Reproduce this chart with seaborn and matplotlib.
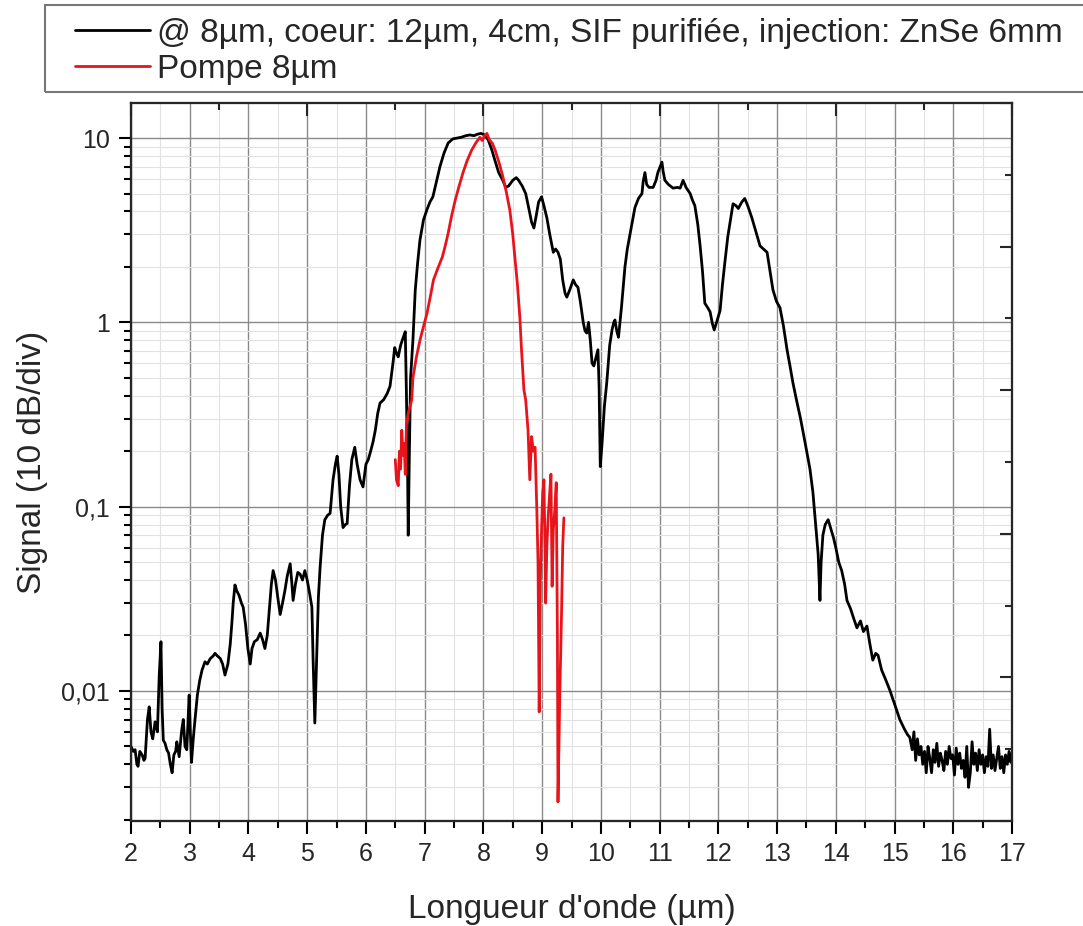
import numpy as np
import pandas as pd
import seaborn as sns
import matplotlib.pyplot as plt
from matplotlib.patches import Rectangle
from matplotlib.ticker import FixedLocator, MultipleLocator, LogLocator, FixedFormatter, NullFormatter

# spectre en sortie de fibre (noir)
black_x = [2.00, 2.04, 2.07, 2.10, 2.12, 2.15, 2.19, 2.22, 2.24, 2.28, 2.31, 2.34, 2.37, 2.41, 2.45, 2.48,
           2.51, 2.53, 2.55, 2.58, 2.61, 2.64, 2.67, 2.70, 2.73, 2.76, 2.78, 2.82, 2.86, 2.89, 2.92, 2.95,
           2.99, 3.01, 3.03, 3.06, 3.09, 3.13, 3.17, 3.21, 3.26, 3.30, 3.35, 3.40, 3.43, 3.47, 3.52, 3.56,
           3.60, 3.65, 3.69, 3.72, 3.74, 3.77, 3.80, 3.84, 3.88, 3.91, 3.95, 3.99, 4.03, 4.06, 4.10, 4.15,
           4.20, 4.24, 4.28, 4.32, 4.36, 4.39, 4.42, 4.46, 4.50, 4.54, 4.58, 4.62, 4.66, 4.71, 4.74, 4.76,
           4.80, 4.84, 4.88, 4.92, 4.96, 5.00, 5.04, 5.08, 5.10, 5.13, 5.16, 5.19, 5.22, 5.26, 5.30, 5.35,
           5.39, 5.44, 5.48, 5.51, 5.54, 5.57, 5.61, 5.65, 5.68, 5.72, 5.76, 5.81, 5.85, 5.90, 5.95, 6.00,
           6.04, 6.08, 6.12, 6.16, 6.20, 6.24, 6.30, 6.36, 6.41, 6.46, 6.49, 6.52, 6.55, 6.59, 6.63, 6.67,
           6.69, 6.71, 6.72, 6.74, 6.76, 6.80, 6.84, 6.88, 6.92, 6.98, 7.04, 7.09, 7.14, 7.20, 7.26, 7.33,
           7.40, 7.48, 7.55, 7.62, 7.70, 7.77, 7.84, 7.90, 7.96, 8.02, 8.08, 8.14, 8.20, 8.26, 8.33, 8.38,
           8.43, 8.50, 8.56, 8.60, 8.66, 8.72, 8.77, 8.82, 8.86, 8.90, 8.94, 8.99, 9.03, 9.08, 9.13, 9.19,
           9.23, 9.27, 9.31, 9.35, 9.39, 9.42, 9.47, 9.53, 9.57, 9.61, 9.65, 9.70, 9.73, 9.76, 9.79, 9.82,
           9.85, 9.88, 9.92, 9.95, 9.97, 9.99, 10.02, 10.06, 10.10, 10.15, 10.19, 10.22, 10.24, 10.27, 10.30, 10.35,
           10.41, 10.45, 10.50, 10.58, 10.64, 10.70, 10.72, 10.75, 10.78, 10.82, 10.89, 10.94, 10.97, 11.01, 11.04, 11.06,
           11.09, 11.15, 11.23, 11.30, 11.35, 11.40, 11.45, 11.52, 11.56, 11.60, 11.65, 11.69, 11.73, 11.77, 11.82, 11.86,
           11.90, 11.93, 11.97, 12.03, 12.07, 12.11, 12.16, 12.20, 12.25, 12.30, 12.34, 12.40, 12.45, 12.50, 12.57, 12.64,
           12.71, 12.77, 12.83, 12.88, 12.93, 12.99, 13.05, 13.11, 13.17, 13.22, 13.27, 13.33, 13.40, 13.48, 13.56, 13.61,
           13.65, 13.68, 13.70, 13.73, 13.75, 13.78, 13.82, 13.87, 13.92, 13.96, 14.00, 14.05, 14.10, 14.15, 14.19, 14.25,
           14.30, 14.36, 14.42, 14.47, 14.53, 14.58, 14.63, 14.68, 14.72, 14.78, 14.85, 14.92, 15.00, 15.09, 15.17, 15.22,
           15.26, 15.30, 15.33, 15.36, 15.39, 15.42, 15.45, 15.48, 15.51, 15.54, 15.57, 15.60, 15.63, 15.66, 15.69, 15.72,
           15.75, 15.78, 15.81, 15.84, 15.87, 15.90, 15.93, 15.96, 15.99, 16.02, 16.05, 16.08, 16.11, 16.14, 16.17, 16.20,
           16.23, 16.26, 16.29, 16.32, 16.35, 16.38, 16.41, 16.44, 16.47, 16.50, 16.53, 16.56, 16.59, 16.62, 16.65, 16.68,
           16.71, 16.74, 16.77, 16.80, 16.83, 16.86, 16.89, 16.92, 16.95, 16.98, 17.00]
black_y = [0.0050, 0.0047, 0.0048, 0.0040, 0.0039, 0.0047, 0.0045, 0.0042, 0.0043, 0.0070, 0.0082, 0.0060, 0.0055, 0.0068, 0.0060, 0.0120,
           0.0185, 0.0080, 0.0054, 0.0052, 0.0048, 0.0046, 0.0040, 0.0036, 0.0045, 0.0047, 0.0053, 0.0044, 0.0060, 0.0070, 0.0050, 0.0048,
           0.0095, 0.0060, 0.0041, 0.0055, 0.0070, 0.0095, 0.0114, 0.0130, 0.0144, 0.0140, 0.0150, 0.0155, 0.0160, 0.0155, 0.0150, 0.0140,
           0.0122, 0.0140, 0.0180, 0.0240, 0.0300, 0.0376, 0.0350, 0.0330, 0.0300, 0.0285, 0.0230, 0.0170, 0.0140, 0.0170, 0.0185, 0.0190,
           0.0206, 0.0190, 0.0170, 0.0200, 0.0290, 0.0380, 0.0450, 0.0400, 0.0320, 0.0260, 0.0300, 0.0350, 0.0420, 0.0490, 0.0380, 0.0310,
           0.0380, 0.0440, 0.0430, 0.0400, 0.0450, 0.0400, 0.0340, 0.0285, 0.0150, 0.0067, 0.0150, 0.0320, 0.0470, 0.0700, 0.0850, 0.0900,
           0.0920, 0.1400, 0.1700, 0.1880, 0.1500, 0.1000, 0.0770, 0.0800, 0.0810, 0.1300, 0.1800, 0.2100, 0.1700, 0.1400, 0.1280, 0.1700,
           0.1800, 0.2000, 0.2240, 0.2600, 0.3200, 0.3650, 0.3800, 0.4100, 0.4500, 0.6000, 0.7300, 0.6800, 0.6500, 0.7500, 0.8200, 0.8900,
           0.4000, 0.1500, 0.0700, 0.2000, 0.5000, 0.8000, 1.5, 2.1, 2.8, 3.6, 4.1, 4.5, 4.8, 5.8, 7.0, 8.3,
           9.4, 9.9, 10.0, 10.1, 10.3, 10.4, 10.3, 10.5, 10.6, 10.4, 9.8, 8.7, 7.5, 6.5, 5.9, 5.4,
           5.5, 5.9, 6.1, 5.9, 5.5, 5.0, 4.2, 3.5, 3.25, 3.8, 4.5, 4.8, 4.3, 3.7, 3.0, 2.4,
           2.5, 2.4, 2.2, 1.7, 1.44, 1.37, 1.5, 1.7, 1.6, 1.55, 1.3, 1.0, 0.9, 0.875, 1.0, 0.8,
           0.6, 0.58, 0.65, 0.71, 0.45, 0.165, 0.22, 0.35, 0.47, 0.75, 0.91, 1.0, 1.03, 0.9, 0.83, 1.2,
           2.0, 2.5, 3.05, 4.2, 4.7, 5.0, 5.8, 6.5, 5.6, 5.4, 5.4, 5.9, 6.5, 7.0, 7.4, 6.6,
           5.9, 5.6, 5.35, 5.4, 5.35, 5.9, 5.4, 5.0, 4.6, 4.3, 3.4, 2.6, 1.9, 1.27, 1.2, 1.14,
           0.98, 0.91, 1.0, 1.16, 1.6, 2.1, 2.9, 3.5, 4.4, 4.3, 4.15, 4.5, 4.7, 4.3, 3.7, 3.1,
           2.6, 2.5, 2.4, 1.9, 1.5, 1.3, 1.2, 0.95, 0.71, 0.58, 0.47, 0.38, 0.30, 0.22, 0.16, 0.12,
           0.085, 0.065, 0.055, 0.031, 0.05, 0.07, 0.08, 0.085, 0.075, 0.068, 0.06, 0.05, 0.045, 0.038, 0.031, 0.028,
           0.025, 0.022, 0.024, 0.021, 0.0225, 0.018, 0.0147, 0.016, 0.0156, 0.013, 0.0115, 0.0101, 0.0085, 0.0070, 0.0062, 0.0058,
           0.0056, 0.0048, 0.0060, 0.0042, 0.0055, 0.0045, 0.0050, 0.0040, 0.0047, 0.0036, 0.0050, 0.0043, 0.0036, 0.0048, 0.0041, 0.0052,
           0.0039, 0.0046, 0.0042, 0.0037, 0.0047, 0.0040, 0.0050, 0.0043, 0.0045, 0.0035, 0.0049, 0.0040, 0.0046, 0.0038, 0.0042, 0.0034,
           0.0050, 0.0030, 0.0036, 0.0053, 0.0040, 0.0046, 0.0037, 0.0048, 0.0040, 0.0045, 0.0036, 0.0044, 0.0039, 0.0062, 0.0038, 0.0045,
           0.0037, 0.0043, 0.0050, 0.0038, 0.0044, 0.0036, 0.0045, 0.0040, 0.0047, 0.0041, 0.0046]

# pompe (rouge)
red_x = [6.50, 6.52, 6.55, 6.57, 6.59, 6.61, 6.63, 6.65, 6.67, 6.69, 6.72, 6.75, 6.78, 6.80, 6.86, 6.92,
         6.98, 7.04, 7.10, 7.15, 7.22, 7.30, 7.35, 7.40, 7.46, 7.52, 7.58, 7.65, 7.72, 7.80, 7.87, 7.94,
         7.98, 8.02, 8.06, 8.10, 8.15, 8.20, 8.27, 8.33, 8.39, 8.45, 8.50, 8.54, 8.58, 8.62, 8.65, 8.69,
         8.72, 8.76, 8.79, 8.82, 8.85, 8.88, 8.91, 8.93, 8.95, 8.97, 8.99, 9.01, 9.03, 9.05, 9.06, 9.08,
         9.10, 9.13, 9.15, 9.17, 9.19, 9.22, 9.24, 9.26, 9.27, 9.29, 9.30, 9.33, 9.35, 9.37]
red_y = [0.18, 0.14, 0.13, 0.20, 0.16, 0.26, 0.19, 0.22, 0.15, 0.28, 0.32, 0.35, 0.38, 0.50, 0.65, 0.80,
         0.95, 1.12, 1.40, 1.70, 1.95, 2.26, 2.60, 3.05, 3.80, 4.60, 5.40, 6.45, 7.50, 8.60, 9.40, 10.1,
         9.7, 10.3, 10.6, 9.8, 9.4, 8.6, 7.3, 6.2, 5.1, 4.07, 3.0, 2.18, 1.6, 1.07, 0.70, 0.43,
         0.38, 0.26, 0.14, 0.24, 0.20, 0.21, 0.096, 0.05, 0.0077, 0.04, 0.075, 0.12, 0.14, 0.06, 0.03, 0.06,
         0.085, 0.12, 0.15, 0.037, 0.075, 0.10, 0.135, 0.02, 0.0025, 0.006, 0.0093, 0.026, 0.06, 0.087]

labels = ["@ 8µm, coeur: 12µm, 4cm, SIF purifiée, injection: ZnSe 6mm", "Pompe 8µm"]
ytick_vals = [0.01, 0.1, 1, 10]
ytick_labels = ["0,01", "0,1", "1", "10"]

sns.set_theme(style="white")
plt.rcParams['font.family'] = ['Liberation Sans', 'DejaVu Sans']

W, H = 1083, 926
fig = plt.figure(figsize=(W / 100, H / 100), dpi=100)
ax = fig.add_axes([131 / W, 105 / H, 881 / W, 718 / H])

df_b = pd.DataFrame({"x": black_x, "y": black_y})
df_r = pd.DataFrame({"x": red_x, "y": red_y})
sns.lineplot(data=df_b, x="x", y="y", color="black", lw=2.0, estimator=None, sort=False,
             label=labels[0], ax=ax)
sns.lineplot(data=df_r, x="x", y="y", color="#e8141c", lw=2.0, estimator=None, sort=False,
             label=labels[1], ax=ax)

ax.set_yscale("log")
ax.set_xlim(2, 17)
ax.set_ylim(0.00197, 15.5)

ax.xaxis.set_major_locator(MultipleLocator(1))
ax.xaxis.set_minor_locator(MultipleLocator(0.5))
ax.yaxis.set_major_locator(FixedLocator(ytick_vals))
ax.yaxis.set_major_formatter(FixedFormatter(ytick_labels))
ax.yaxis.set_minor_locator(LogLocator(base=10, subs=np.arange(2, 10)))
ax.yaxis.set_minor_formatter(NullFormatter())

ax.grid(True, which="major", color="#8a8a8a", lw=1.0)
ax.grid(True, which="minor", color="#e2e2e2", lw=0.8)
ax.set_axisbelow(True)

ax.tick_params(which="major", direction="out", length=9, width=1.5, color="black",
               labelsize=18, pad=6, bottom=True, left=True, top=False, right=False)
ax.tick_params(which="minor", direction="out", length=5, width=1.5, color="black",
               bottom=True, left=True, top=False, right=False)
for s in ax.spines.values():
    s.set_linewidth(1.5)
    s.set_color("black")

ax.set_xlabel("Longueur d'onde (µm)", fontsize=24, labelpad=20)
ax.set_ylabel("Signal (10 dB/div)", fontsize=24, labelpad=10)

# ticks internes en haut et a droite
axr = ax.twinx()
axr.set_ylim(0, 5)
axr.yaxis.set_major_locator(MultipleLocator(1))
axr.yaxis.set_minor_locator(MultipleLocator(0.5))
axr.tick_params(axis="y", which="major", direction="in", length=9, width=1.5, labelright=False)
axr.tick_params(axis="y", which="minor", direction="in", length=5, width=1.5)
axr.grid(False)

axt = ax.twiny()
axt.set_xlim(0, 5)
axt.xaxis.set_major_locator(MultipleLocator(1))
axt.xaxis.set_minor_locator(MultipleLocator(0.5))
axt.tick_params(axis="x", which="major", direction="in", length=9, width=1.5, labeltop=False)
axt.tick_params(axis="x", which="minor", direction="in", length=5, width=1.5)
axt.grid(False)
for a in (axr, axt):
    for s in a.spines.values():
        s.set_linewidth(1.5)

handles, labs = ax.get_legend_handles_labels()
ax.get_legend().remove()
fig.patches.append(Rectangle((45 / W, 1 - 92 / H), 1100 / W, 87 / H, transform=fig.transFigure,
                             fill=False, ec="#777777", lw=1.5))
fig.legend(handles, labs, loc="upper left", bbox_to_anchor=(75 / W, 1 - 18 / H), frameon=False,
           fontsize=24, handlelength=2.25, handletextpad=0.2, borderpad=0, borderaxespad=0,
           labelspacing=0.15)

fig.savefig("out.png", dpi=100)
